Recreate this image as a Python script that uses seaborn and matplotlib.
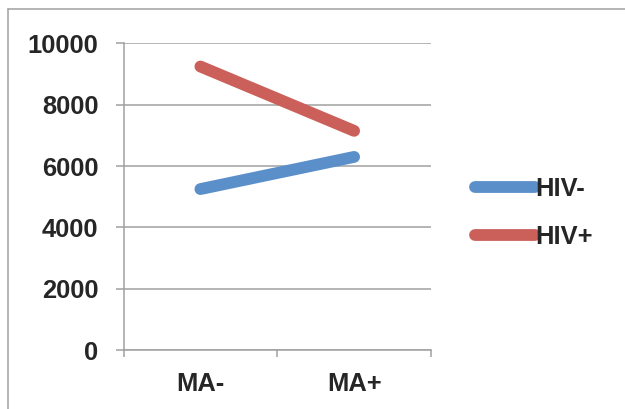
import matplotlib
matplotlib.use("Agg")
import matplotlib.pyplot as plt
import seaborn as sns
import pandas as pd
from matplotlib.lines import Line2D
from matplotlib.ticker import FixedLocator

categories = ["MA-", "MA+"]
hiv_neg = [5250, 6300]
hiv_pos = [9250, 7150]
series_names = ["HIV-", "HIV+"]
yticks = [0, 2000, 4000, 6000, 8000, 10000]

df = pd.DataFrame({
    "MA": categories * 2,
    "value": hiv_neg + hiv_pos,
    "group": [series_names[0]] * 2 + [series_names[1]] * 2,
})

sns.set_style("white")
plt.rcParams["font.family"] = ["Liberation Sans", "DejaVu Sans"]
plt.rcParams["font.weight"] = "bold"

fig = plt.figure(figsize=(6.25, 4.09), dpi=100)
ax = fig.add_axes([123.5 / 625, 59 / 409, 307.5 / 625, 306.5 / 409])

palette = {"HIV-": "#5A8FCA", "HIV+": "#CB605A"}
sns.lineplot(data=df, x="MA", y="value", hue="group", palette=palette,
             linewidth=8.5, ax=ax, legend=False, sort=False)
for ln in ax.get_lines():
    ln.set_solid_capstyle("round")

gray = "#A0A0A0"
ax.set_xlim(-0.5, 1.5)
ax.set_ylim(0, 10000)
ax.set_yticks(yticks)
ax.set_yticklabels([str(v) for v in yticks], fontsize=18.4, fontweight="bold")
ax.set_xticks([0, 1])
ax.set_xticklabels(categories, fontsize=18.4, fontweight="bold")
ax.xaxis.set_minor_locator(FixedLocator([-0.5, 0.5, 1.5]))
ax.tick_params(axis="x", which="major", length=0, pad=16)
ax.tick_params(axis="x", which="minor", length=5, width=1.1, color=gray, direction="out", bottom=True)
ax.tick_params(axis="y", length=6, width=1.1, color=gray, direction="out", pad=12, left=True)
ax.set_xlabel("")
ax.set_ylabel("")
ax.yaxis.grid(True, color=gray, linewidth=1.1)
ax.set_axisbelow(True)
for s in ["top", "right"]:
    ax.spines[s].set_visible(False)
for s in ["left", "bottom"]:
    ax.spines[s].set_color(gray)
    ax.spines[s].set_linewidth(1.1)

handles = [Line2D([0], [0], color=palette[n], linewidth=8.5, solid_capstyle="round") for n in series_names]
fig.legend(handles, series_names, loc="center left", bbox_to_anchor=(475 / 625, 196 / 409),
           frameon=False, borderpad=0, borderaxespad=0, handlelength=2.35, handletextpad=0.0,
           labelspacing=0.97, prop={"size": 18.4, "weight": "bold"})

fig.add_artist(Line2D([8 / 625, 8 / 625], [0, 1 - 9 / 409], color=gray, linewidth=1.1))
fig.add_artist(Line2D([8 / 625, 1], [1 - 9 / 409, 1 - 9 / 409], color=gray, linewidth=1.1))

fig.savefig("out.png", dpi=100)
